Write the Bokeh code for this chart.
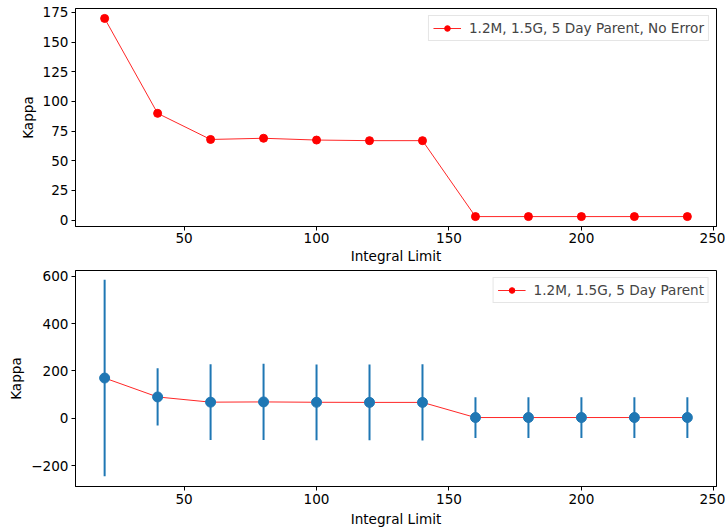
from bokeh.plotting import figure
from bokeh.layouts import column
from bokeh.models import FixedTicker, Range1d, Legend, LegendItem, ColumnDataSource
from bokeh.embed import file_html
from bokeh.resources import INLINE

# data
limits = [20, 40, 60, 80, 100, 120, 140, 160, 180, 200, 220, 240]
kappa_noerr = [170, 90, 68, 69, 67.5, 67, 67, 3, 3, 3, 3, 3]
kappa = [170, 90, 68, 69, 67.5, 67, 67, 3, 3, 3, 3, 3]
kappa_err = [415, 121, 160, 161, 160, 160, 161, 86, 86, 86, 86, 86]

top_yticks = [0, 25, 50, 75, 100, 125, 150, 175]
bot_yticks = [-200, 0, 200, 400, 600]
xticks = [50, 100, 150, 200, 250]

FONT = "DejaVu Sans"
FS = "13.6px"


def style(p, yticks):
    p.xgrid.visible = False
    p.ygrid.visible = False
    p.outline_line_color = "black"
    p.outline_line_width = 1
    p.background_fill_color = "white"
    p.border_fill_color = "white"
    for ax in (p.xaxis[0], p.yaxis[0]):
        ax.axis_line_color = "black"
        ax.major_tick_line_color = "black"
        ax.major_tick_out = 4
        ax.major_tick_in = 0
        ax.minor_tick_line_color = None
        ax.major_label_text_font = FONT
        ax.major_label_text_font_size = FS
        ax.major_label_text_color = "black"
        ax.axis_label_text_font = FONT
        ax.axis_label_text_font_size = FS
        ax.axis_label_text_font_style = "normal"
        ax.axis_label_text_color = "black"
        ax.major_label_standoff = 3
        ax.axis_label_standoff = 4
    p.xaxis[0].ticker = FixedTicker(ticks=xticks)
    p.yaxis[0].ticker = FixedTicker(ticks=yticks)
    p.yaxis[0].major_label_overrides = {t: str(t).replace("-", "\u2212") for t in yticks if t < 0}
    p.xaxis[0].axis_label = "Integral Limit"
    p.yaxis[0].axis_label = "Kappa"


def style_legend(leg):
    leg.location = "top_right"
    leg.label_text_font = FONT
    leg.label_text_font_size = FS
    leg.border_line_color = "#cccccc"
    leg.border_line_width = 1
    leg.background_fill_alpha = 0.8
    leg.glyph_width = 28
    leg.glyph_height = 14
    leg.padding = 4
    leg.margin = 7
    leg.label_standoff = 8
    leg.spacing = 0


# top panel
p1 = figure(width=725, height=267, output_backend="svg", toolbar_location=None,
            x_range=Range1d(9, 251), y_range=Range1d(-5.35, 178.35),
            min_border_left=75, min_border_right=9, min_border_top=8, min_border_bottom=41)
style(p1, top_yticks)
p1.xaxis[0].major_label_standoff = 2
p1.xaxis[0].axis_label_standoff = 2
l1 = p1.line(limits, kappa_noerr, line_color="red", line_width=1, line_alpha=0.85)
c1 = p1.scatter(limits, kappa_noerr, size=8, fill_color="red", line_color="red")
leg1 = Legend(items=[LegendItem(label="1.2M, 1.5G, 5 Day Parent, No Error", renderers=[l1, c1])])
style_legend(leg1)
p1.add_layout(leg1, "center")

# bottom panel
src = ColumnDataSource(dict(
    x=limits, y=kappa,
    lo=[k - e for k, e in zip(kappa, kappa_err)],
    hi=[k + e for k, e in zip(kappa, kappa_err)],
))
p2 = figure(width=725, height=262, output_backend="svg", toolbar_location=None,
            x_range=Range1d(9, 251), y_range=Range1d(-288.5, 624.5),
            min_border_left=75, min_border_right=9, min_border_top=3, min_border_bottom=43)
style(p2, bot_yticks)
l2 = p2.line("x", "y", source=src, line_color="red", line_width=1, line_alpha=0.85)
c2 = p2.scatter("x", "y", source=src, size=8, fill_color="red", line_color="red")
p2.segment(x0="x", y0="lo", x1="x", y1="hi", source=src, line_color="#1f77b4", line_width=2)
p2.scatter("x", "y", source=src, size=10, fill_color="#1f77b4", line_color="#1f77b4")
leg2 = Legend(items=[LegendItem(label="1.2M, 1.5G, 5 Day Parent", renderers=[l2, c2])])
style_legend(leg2)
p2.add_layout(leg2, "center")

layout = column(p1, p2, spacing=0)
open("out.html", "w").write(file_html(layout, INLINE))
